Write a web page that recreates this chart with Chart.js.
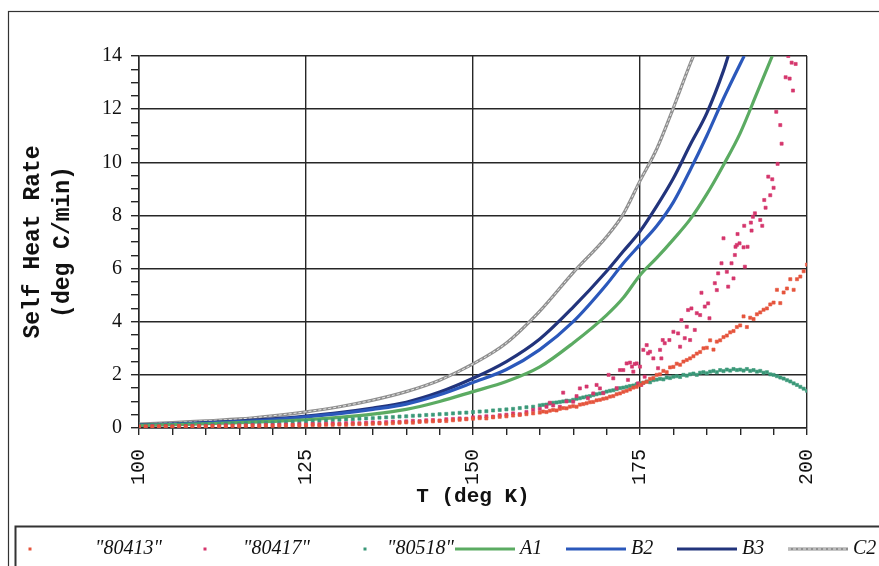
<!DOCTYPE html>
<html>
<head>
<meta charset="utf-8">
<script src="https://cdn.jsdelivr.net/npm/chart.js@4.4.0/dist/chart.umd.min.js"></script>
<style>
  html, body { margin: 0; padding: 0; background: #fff; }
</style>
</head>
<body>
<canvas id="heatChart" width="879" height="566"></canvas>
<script>
// temperature grid of the scanned series (deg K)
const scanT = [
  100,101,102,103,104,105,106,107,108,109,
  110,111,112,113,114,115,116,117,118,119,
  120,121,122,123,124,125,126,127,128,129,
  130,131,132,133,134,135,136,137,138,139,
  140,141,142,143,144,145,146,147,148,149,
  150,151,152,153,154,155,156,157,158,159,
  160,160.5,161,161.5,162,162.5,163,163.5,164,164.5,
  165,165.5,166,166.5,167,167.5,168,168.5,169,169.5,
  170,170.5,171,171.5,172,172.5,173,173.5,174,174.5,
  175,175.5,176,176.5,177,177.5,178,178.5,179,179.5,
  180,180.5,181,181.5,182,182.5,183,183.5,184,184.5,
  185,185.5,186,186.5,187,187.5,188,188.5,189,189.5,
  190,190.5,191,191.5,192,192.5,193,193.5,194,194.5,
  195,195.5,196,196.5,197,197.5,198,198.5,199,199.5,
  200
];

// "80413" self heat rate (deg C/min)
const v80413 = [
  0.05,0.06,0.05,0.06,0.06,0.05,0.07,0.06,0.06,0.07,
  0.06,0.07,0.07,0.06,0.08,0.07,0.08,0.08,0.07,0.09,
  0.08,0.09,0.09,0.10,0.09,0.10,0.11,0.10,0.12,0.12,
  0.13,0.12,0.14,0.15,0.14,0.16,0.17,0.16,0.18,0.20,
  0.21,0.20,0.23,0.24,0.25,0.27,0.26,0.29,0.31,0.33,
  0.35,0.37,0.36,0.40,0.42,0.44,0.47,0.49,0.52,0.55,
  0.58,0.62,0.60,0.65,0.68,0.66,0.72,0.75,0.74,0.80,
  0.82,0.80,0.88,0.90,0.93,0.97,0.98,1.04,1.06,1.10,
  1.12,1.18,1.20,1.27,1.30,1.36,1.40,1.45,1.52,1.55,
  1.62,1.70,1.74,1.85,1.88,2.00,2.02,2.15,2.10,2.28,
  2.30,2.42,2.38,2.50,2.56,2.62,2.70,2.80,2.86,3.00,
  3.02,3.30,2.95,3.25,3.30,3.42,3.48,3.60,3.65,3.80,
  3.86,4.20,3.80,4.15,4.10,4.28,4.35,4.45,4.50,4.65,
  4.72,5.20,4.70,5.10,5.25,5.60,5.20,5.60,5.70,5.90,
  6.15
];

// "80518" self heat rate (deg C/min)
const v80518 = [
  0.10,0.09,0.11,0.10,0.12,0.11,0.12,0.13,0.12,0.14,
  0.14,0.15,0.14,0.16,0.17,0.16,0.18,0.18,0.19,0.20,
  0.20,0.21,0.22,0.23,0.23,0.25,0.26,0.27,0.28,0.30,
  0.31,0.32,0.33,0.35,0.36,0.37,0.39,0.40,0.41,0.43,
  0.44,0.46,0.47,0.49,0.50,0.52,0.53,0.55,0.57,0.58,
  0.60,0.62,0.63,0.66,0.68,0.70,0.72,0.75,0.78,0.80,
  0.85,0.87,0.88,0.92,0.95,0.96,0.98,1.00,1.03,1.02,
  1.06,1.10,1.12,1.15,1.18,1.20,1.24,1.27,1.30,1.33,
  1.37,1.40,1.42,1.46,1.50,1.52,1.55,1.58,1.60,1.65,
  1.68,1.70,1.75,1.72,1.80,1.82,1.85,1.83,1.90,1.88,
  1.93,1.95,1.92,2.00,1.97,2.02,2.05,2.00,2.08,2.10,
  2.06,2.12,2.15,2.10,2.18,2.14,2.20,2.16,2.22,2.18,
  2.20,2.16,2.22,2.15,2.18,2.12,2.15,2.08,2.10,2.02,
  2.00,1.95,1.90,1.86,1.80,1.75,1.68,1.62,1.55,1.48,
  1.40
];

// "80417" below 160 K (same grid as scanT, 100..159)
const low80417 = [
  0.06,0.05,0.07,0.06,0.07,0.06,0.08,0.07,0.08,0.08,
  0.08,0.09,0.08,0.10,0.09,0.10,0.10,0.11,0.10,0.12,
  0.11,0.12,0.13,0.12,0.14,0.13,0.15,0.14,0.16,0.17,
  0.16,0.18,0.19,0.18,0.20,0.21,0.20,0.22,0.24,0.23,
  0.25,0.27,0.26,0.29,0.30,0.28,0.33,0.34,0.36,0.35,
  0.40,0.42,0.44,0.43,0.48,0.50,0.55,0.52,0.60,0.68
];

// "80417" scattered points above 160 K, [T, rate]
const hi80417 = [
  [160,0.72],[161,0.80],[161.5,0.95],[162,0.85],[163,0.80],[163.5,1.33],[164,1.00],
  [165,0.99],[165.5,1.20],[166,1.49],[167,1.56],[167.2,1.12],[168,1.30],[168.5,1.62],
  [169,1.49],[169.5,1.31],[170.3,2.00],[171,1.87],[171.5,1.50],[172,2.18],[172.5,2.18],
  [173,2.43],[173.2,1.81],[173.5,2.46],[173.8,2.31],[174,2.12],[174.2,2.41],[174.5,2.43],
  [174.7,1.68],[175,2.31],[175.2,1.62],[175.5,2.94],[175.7,1.93],[176,3.12],[176.2,2.81],
  [176.5,2.87],[177,2.62],[177.7,2.25],[178,2.94],[178.2,2.62],[178.4,3.31],[178.7,3.19],
  [179.4,3.31],[180,3.62],[180.7,3.56],[181,3.06],[181.2,4.06],[181.7,3.38],[182,3.81],
  [182.2,4.44],[182.5,3.31],[182.7,4.50],[183.2,3.69],[183.5,4.32],[184,4.25],[184.2,5.09],
  [184.7,4.57],[185.2,4.69],[185.4,4.13],[186.2,5.45],[186.5,5.19],[186.7,5.82],[187.2,6.20],
  [187.5,7.14],[188,5.88],[188.2,5.32],[188.7,6.20],[189,5.63],[189.2,6.51],[189.3,6.82],
  [189.5,6.89],[189.6,7.30],[189.9,6.95],[190.5,6.80],[190.6,7.61],[190.7,6.07],[191.1,6.82],
  [191.6,7.73],[191.7,7.43],[191.9,7.95],[192.2,8.08],[193,7.83],[193.3,7.61],[193.6,8.58],
  [193.8,8.29],[194.2,9.46],[194.5,8.76],[194.8,9.36],[195,9.04],[195.4,11.9],[195.6,9.94],
  [196,11.4],[196.2,10.7],[196.8,13.2],[197.2,14.0],[197.4,13.15],[197.7,13.75],[197.9,12.7],
  [198.3,13.7]
];

// fitted model curves
const a1T = [100,105,110,115,120,125,130,135,140,145,150,155,160,165,170,172.5,175,177.5,180,182.5,185,187.5,190,192.5,194.8];
const a1V = [0.10,0.13,0.16,0.20,0.25,0.31,0.40,0.52,0.70,1.00,1.37,1.75,2.30,3.20,4.25,4.90,5.75,6.40,7.10,7.85,8.80,9.90,11.1,12.6,14.0];
const b2T = [100,105,110,115,120,125,130,135,140,145,150,155,160,165,170,172.5,175,177.5,180,182.5,185,187.5,190,190.6];
const b2V = [0.11,0.14,0.18,0.24,0.31,0.42,0.54,0.70,0.90,1.25,1.71,2.20,2.95,4.00,5.40,6.20,6.90,7.60,8.50,9.70,11.0,12.4,13.7,14.0];
const b3T = [100,105,110,115,120,125,130,135,140,145,150,155,160,165,170,172.5,175,177.5,180,182.5,185,187.5,188.2];
const b3V = [0.12,0.15,0.20,0.26,0.34,0.45,0.58,0.75,0.97,1.35,1.87,2.50,3.35,4.55,5.90,6.65,7.40,8.35,9.40,10.65,11.85,13.45,14.0];
const c2T = [100,105,110,115,120,125,130,135,140,145,150,155,160,165,170,172.5,175,177.5,180,182.5,183];
const c2V = [0.15,0.20,0.27,0.34,0.46,0.61,0.80,1.05,1.37,1.80,2.41,3.20,4.40,5.85,7.20,8.05,9.30,10.50,12.05,13.70,14.0];

const xTickLabels = [100, 125, 150, 175, 200];
const yTickLabels = [0, 2, 4, 6, 8, 10, 12, 14];

function pairs(ts, vs) {
    return vs.map((v, i) => ({ x: ts[i], y: v }));
}

const serif = '"Liberation Serif", "Times New Roman", serif';
const mono = '"Liberation Mono", "Courier New", monospace';
const gridCol = '#262626';

function scatterSet(label, color, data) {
    return {
        label: label, data: data, showLine: false,
        pointStyle: 'rect', pointRadius: 2.2, pointBorderWidth: 0.6,
        pointBackgroundColor: color, pointBorderColor: color,
        backgroundColor: color, borderColor: color
    };
}
function lineSet(label, color, data) {
    return {
        label: label, data: data, showLine: true, pointRadius: 0,
        borderColor: color, backgroundColor: color, borderWidth: 3.2,
        cubicInterpolationMode: 'monotone'
    };
}

const datasets = [
    scatterSet('"80413"', '#e5543c', pairs(scanT, v80413)),
    scatterSet('"80417"', '#d5356c', pairs(scanT, low80417).concat(hi80417.map(p => ({ x: p[0], y: p[1] })))),
    scatterSet('"80518"', '#3a9878', pairs(scanT, v80518)),
    lineSet('A1', '#5bab62', pairs(a1T, a1V)),
    lineSet('B2', '#2b58bb', pairs(b2T, b2V)),
    lineSet('B3', '#22347c', pairs(b3T, b3V)),
    lineSet('C2', '#8f8f8f', pairs(c2T, c2V))
];

// light centre stroke on C2 so it looks like the scanned double line
const doubleLine = {
    id: 'doubleLine',
    afterDatasetDraw(chart, args) {
        if (chart.data.datasets[args.index].label !== 'C2') return;
        const c = chart.ctx;
        const area = chart.chartArea;
        c.save();
        c.beginPath();
        c.rect(area.left, area.top, area.right - area.left, area.bottom - area.top);
        c.clip();
        c.beginPath();
        args.meta.dataset.path(c);
        c.lineWidth = 1;
        c.strokeStyle = 'rgba(235,235,235,0.95)';
        c.setLineDash([3, 2]);
        c.stroke();
        c.restore();
    }
};

// page frame + legend box along the bottom
const frameLegend = {
    id: 'frameLegend',
    beforeDraw(chart) {
        const c = chart.ctx;
        c.save();
        c.fillStyle = '#ffffff';
        c.fillRect(0, 0, chart.width, chart.height);
        c.restore();
    },
    afterDraw(chart) {
        const c = chart.ctx;
        c.save();
        c.strokeStyle = '#333';
        c.lineWidth = 1.2;
        c.strokeRect(8.5, 11.5, 1000, 700);
        c.lineWidth = 2;
        c.strokeRect(15.5, 526.5, 1000, 200);

        const y = 549;
        c.font = 'italic 20px ' + serif;
        c.textBaseline = 'middle';
        c.fillStyle = '#111';
        const dots = [[30, 95], [205, 243], [365, 387]];
        dots.forEach((d, i) => {
            const ds = chart.data.datasets[i];
            c.fillStyle = ds.pointBackgroundColor;
            c.fillRect(d[0] - 1.5, y - 1.5, 3, 3);
            c.fillStyle = '#111';
            c.fillText(ds.label, d[1], y);
        });
        const lines = [455, 566, 677, 788];
        lines.forEach((x0, i) => {
            const ds = chart.data.datasets[i + 3];
            c.strokeStyle = ds.borderColor;
            c.lineWidth = 3.2;
            c.beginPath();
            c.moveTo(x0, y);
            c.lineTo(x0 + 60, y);
            c.stroke();
            if (ds.label === 'C2') {
                c.strokeStyle = 'rgba(235,235,235,0.95)';
                c.lineWidth = 1;
                c.setLineDash([3, 2]);
                c.beginPath();
                c.moveTo(x0, y);
                c.lineTo(x0 + 60, y);
                c.stroke();
                c.setLineDash([]);
            }
            c.fillStyle = '#111';
            c.fillText(ds.label, x0 + 65, y);
        });
        c.restore();
    }
};

const ctx = document.getElementById('heatChart').getContext('2d');
new Chart(ctx, {
    type: 'scatter',
    data: { datasets: datasets },
    options: {
        responsive: false,
        animation: false,
        layout: { padding: { left: 0, right: 72, top: 56, bottom: 56 } },
        plugins: { legend: { display: false }, tooltip: { enabled: false } },
        scales: {
            x: {
                type: 'linear', min: 100, max: 200,
                afterFit: s => { s.height = 82; },
                ticks: {
                    stepSize: 5, autoSkip: false, minRotation: 90, maxRotation: 90, padding: 14,
                    color: '#111', font: { family: mono, size: 20 },
                    callback: v => xTickLabels.includes(v) ? String(v) : ''
                },
                grid: {
                    color: c => (c.tick && xTickLabels.includes(c.tick.value)) ? gridCol : 'rgba(0,0,0,0)',
                    tickColor: gridCol, tickLength: 7, lineWidth: 1.4
                },
                border: { color: gridCol, width: 1.5 },
                title: {
                    display: true, text: 'T (deg K)', color: '#111',
                    font: { family: mono, size: 21, weight: 'bold' },
                    padding: { top: 0, bottom: 1 }
                }
            },
            y: {
                min: 0, max: 14,
                afterFit: s => { s.width = 139; },
                ticks: {
                    stepSize: 0.5, autoSkip: false, padding: 9,
                    color: '#111', font: { family: serif, size: 20 },
                    callback: v => yTickLabels.includes(v) ? String(v) : ''
                },
                grid: {
                    color: c => (c.tick && yTickLabels.includes(c.tick.value)) ? gridCol : 'rgba(0,0,0,0)',
                    tickColor: gridCol, tickLength: 8, lineWidth: 1.4
                },
                border: { color: gridCol, width: 1.5 },
                title: {
                    display: true, text: ['Self Heat Rate', '(deg C/min)'], color: '#111',
                    font: { family: mono, size: 23, weight: 'bold', lineHeight: '30px' },
                    padding: { top: 18, bottom: 0 }
                }
            }
        }
    },
    plugins: [doubleLine, frameLegend]
});
</script>
</body>
</html>
